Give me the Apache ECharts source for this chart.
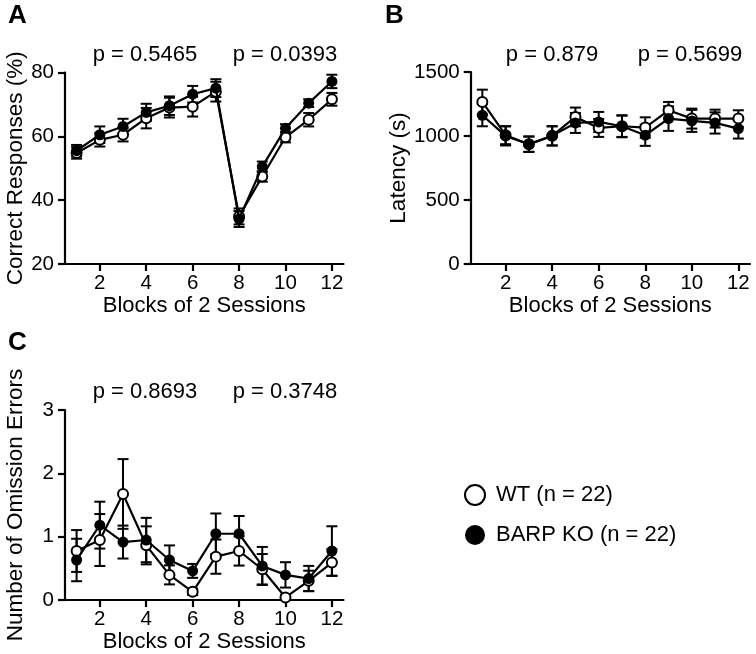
<!DOCTYPE html>
<html>
<head>
<meta charset="utf-8">
<script src="https://cdn.jsdelivr.net/npm/echarts@6/dist/echarts.min.js"></script>
<style>html,body{margin:0;padding:0;background:#fff}#c{width:756px;height:654px}</style>
</head>
<body>
<div id="c"></div>
<script>
// ---- data ----
const blocks = [1,2,3,4,5,6,7,8,9,10,11,12];
const xTicks = [2,4,6,8,10,12];
const seriesNames = ['WT (n = 22)', 'BARP KO (n = 22)'];

// Panel A: Correct Responses (%)
const wtCorrect    = [54.8, 58.9, 60.5, 65.7, 69.0, 69.3, 74.0, 34.9, 47.4, 59.7, 65.2, 71.6];
const wtCorrectSem = [1.8, 2.1, 2.1, 3.2, 3.1, 3.1, 3.1, 2.5, 1.6, 1.6, 2.1, 2.0];
const koCorrect    = [55.5, 60.5, 63.1, 67.5, 69.6, 73.2, 75.1, 34.1, 50.5, 62.5, 70.4, 77.2];
const koCorrectSem = [1.8, 2.6, 2.4, 2.7, 2.9, 2.6, 2.8, 2.5, 1.6, 1.3, 1.2, 2.1];

// Panel B: Latency (s)
const wtLatency    = [1266, 1006, 936, 1001, 1149, 1063, 1076, 1066, 1201, 1136, 1136, 1136];
const wtLatencySem = [96, 70, 60, 75, 73, 70, 83, 80, 65, 78, 70, 65];
const koLatency    = [1162, 1001, 936, 1001, 1102, 1110, 1076, 1006, 1136, 1118, 1102, 1058];
const koLatencySem = [86, 75, 60, 75, 78, 78, 86, 83, 96, 86, 83, 78];

// Panel C: Number of Omission Errors
const wtOmission    = [0.775, 0.948, 1.675, 0.864, 0.398, 0.131, 0.686, 0.775, 0.487, 0.042, 0.304, 0.592];
const wtOmissionSem = [0.33, 0.41, 0.55, 0.30, 0.15, 0.05, 0.27, 0.23, 0.24, 0.04, 0.16, 0.21];
const koOmission    = [0.633, 1.183, 0.916, 0.948, 0.633, 0.461, 1.047, 1.047, 0.539, 0.398, 0.340, 0.775];
const koOmissionSem = [0.335, 0.37, 0.26, 0.35, 0.23, 0.11, 0.32, 0.28, 0.30, 0.20, 0.20, 0.39];

const pValues = [['p = 0.5465','p = 0.0393'], ['p = 0.879','p = 0.5699'], ['p = 0.8693','p = 0.3748']];
const panelLetters = ['A','B','C'];
const yNames = ['Correct Responses (%)', 'Latency (s)', 'Number of Omission Errors'];
const xName = 'Blocks of 2 Sessions';

// ---- chart ----
const FONT = "'Liberation Sans', Arial, Helvetica, sans-serif";
const chart = echarts.init(document.getElementById('c'), null, {renderer:'canvas'});

const grids = [
  {left: 65, top: 72.5, width: 278.5, height: 191.5},
  {left: 470.7, top: 72, width: 279.3, height: 192},
  {left: 65, top: 410, width: 278.5, height: 191}
];
const yRanges = [[20,80,20],[0,1500,500],[0,3,1]];
const yGaps = [37, 58, 38];

function xAxis(i){
  return {
    type:'value', gridIndex:i, min:0.5, max:12.5,
    name:xName, nameLocation:'middle', nameGap:27,
    nameTextStyle:{fontFamily:FONT, fontSize:22, color:'#000'},
    axisLine:{show:true, onZero:false, lineStyle:{color:'#000', width:2.2}},
    axisTick:{show:true, length:7, lineStyle:{color:'#000', width:2.2}, customValues:xTicks},
    axisLabel:{fontFamily:FONT, fontSize:20.5, color:'#000', margin:9, customValues:xTicks},
    splitLine:{show:false}
  };
}
function yAxis(i){
  const r = yRanges[i];
  return {
    type:'value', gridIndex:i, min:r[0], max:r[1], interval:r[2],
    name:yNames[i], nameLocation:'middle', nameGap:yGaps[i], nameRotate:90,
    nameTextStyle:{fontFamily:FONT, fontSize:22.5, color:'#000'},
    axisLine:{show:true, onZero:false, lineStyle:{color:'#000', width:2.2}},
    axisTick:{show:true, length:7, lineStyle:{color:'#000', width:2.2}},
    axisLabel:{fontFamily:FONT, fontSize:20.5, color:'#000', margin:11, formatter: v => String(v)},
    splitLine:{show:false}
  };
}

function errRender(params, api){
  const x = api.value(0), lo = api.value(1), hi = api.value(2);
  const p1 = api.coord([x, lo]), p2 = api.coord([x, hi]);
  const w = 5.5;
  const st = {stroke:'#000', lineWidth:2};
  return {type:'group', children:[
    {type:'line', shape:{x1:p1[0], y1:p1[1], x2:p2[0], y2:p2[1]}, style:st},
    {type:'line', shape:{x1:p1[0]-w, y1:p1[1], x2:p1[0]+w, y2:p1[1]}, style:st},
    {type:'line', shape:{x1:p2[0]-w, y1:p2[1], x2:p2[0]+w, y2:p2[1]}, style:st}
  ]};
}

const panels = [
  [wtCorrect, wtCorrectSem, koCorrect, koCorrectSem],
  [wtLatency, wtLatencySem, koLatency, koLatencySem],
  [wtOmission, wtOmissionSem, koOmission, koOmissionSem]
];

const series = [];
panels.forEach((p, i) => {
  const [wv, we, kv, ke] = p;
  series.push({
    type:'custom', name:'errWT'+i, xAxisIndex:i, yAxisIndex:i, z:1,
    renderItem: errRender, encode:{x:0, y:[1,2]}, silent:true,
    data: blocks.map((b,j)=>[b, wv[j]-we[j], wv[j]+we[j]])
  });
  series.push({
    type:'custom', name:'errKO'+i, xAxisIndex:i, yAxisIndex:i, z:1,
    renderItem: errRender, encode:{x:0, y:[1,2]}, silent:true,
    data: blocks.map((b,j)=>[b, kv[j]-ke[j], kv[j]+ke[j]])
  });
  series.push({
    type:'line', name:seriesNames[0], xAxisIndex:i, yAxisIndex:i, z:3,
    symbol:'circle', symbolSize:10, showAllSymbol:true,
    lineStyle:{color:'#000', width:2.2},
    itemStyle:{color:'#fff', borderColor:'#000', borderWidth:2},
    data: blocks.map((b,j)=>[b, wv[j]])
  });
  series.push({
    type:'line', name:seriesNames[1], xAxisIndex:i, yAxisIndex:i, z:4,
    symbol:'circle', symbolSize:11, showAllSymbol:true,
    lineStyle:{color:'#000', width:2.2},
    itemStyle:{color:'#000', borderColor:'#000', borderWidth:0},
    data: blocks.map((b,j)=>[b, kv[j]])
  });
});

const pPos = [
  [[145, 55],[285, 55]],
  [[552, 55],[690, 55]],
  [[145, 392],[285, 392]]
];
const letterPos = [[8, 16],[385, 16],[8, 343]];
const graphic = [];
pValues.forEach((pv, i) => {
  pv.forEach((t, k) => {
    graphic.push({type:'text', x:pPos[i][k][0], y:pPos[i][k][1],
      style:{text:t, font:'22px '+FONT, fill:'#000', textAlign:'center', textVerticalAlign:'middle'}});
  });
  graphic.push({type:'text', x:letterPos[i][0], y:letterPos[i][1],
    style:{text:panelLetters[i], font:'bold 26px '+FONT, fill:'#000', textAlign:'left', textVerticalAlign:'middle'}});
});

chart.setOption({
  animation:false,
  backgroundColor:'#fff',
  grid: grids,
  xAxis: [0,1,2].map(xAxis),
  yAxis: [0,1,2].map(yAxis),
  legend: {
    orient:'vertical', left:459, top:479, itemWidth:20, itemHeight:20, itemGap:18,
    selectedMode:false,
    textStyle:{fontFamily:FONT, fontSize:22, color:'#000', padding:[0,0,0,6]},
    data:[
      {name:seriesNames[0], icon:'circle', itemStyle:{color:'#fff', borderColor:'#000', borderWidth:2}},
      {name:seriesNames[1], icon:'circle', itemStyle:{color:'#000', borderWidth:0}}
    ]
  },
  graphic: graphic,
  series: series
});
</script>
</body>
</html>
